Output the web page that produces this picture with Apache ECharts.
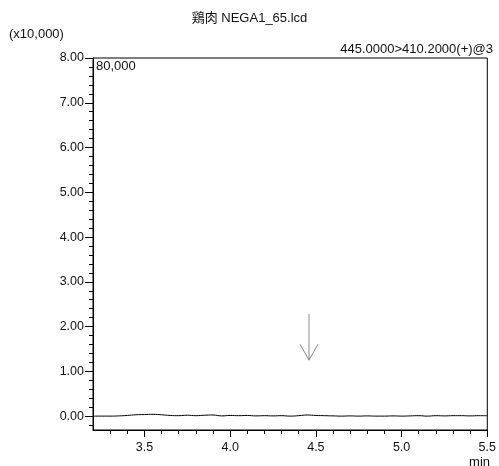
<!DOCTYPE html>
<html><head><meta charset="utf-8">
<script src="https://cdn.jsdelivr.net/npm/echarts@6/dist/echarts.min.js"></script>
<style>html,body{margin:0;padding:0;background:#fff}#c{width:499px;height:466px}</style>
</head><body><div id="c"></div>
<script>
var FONT = '"Liberation Sans","Noto Sans CJK JP",sans-serif';
var times = [3.20,3.25,3.30,3.35,3.40,3.45,3.50,3.55,3.60,3.65,3.70,3.75,3.80,3.85,3.90,3.95,4.00,4.05,4.10,4.15,4.20,4.25,4.30,4.35,4.40,4.45,4.50,4.55,4.60,4.65,4.70,4.75,4.80,4.85,4.90,4.95,5.00,5.05,5.10,5.15,5.20,5.25,5.30,5.35,5.40,5.45,5.50];
var intensity = [0,0,0,0.005,0.015,0.03,0.035,0.04,0.03,0.015,0.01,0.02,0.01,0.02,0.025,0.005,0.015,0.01,0.015,0.005,0.01,0.005,0.01,0,0.01,0.025,0.015,0.01,0.005,0,0.005,0,0.005,0,0,0.005,0,0.005,0.01,0,0.01,0.005,0.01,0.01,0.005,0.01,0.01];
var yMajorTicks = [0,1,2,3,4,5,6,7,8];
var yMinorTicks = [-0.2,0.2,0.4,0.6,0.8,1.2,1.4,1.6,1.8,2.2,2.4,2.6,2.8,3.2,3.4,3.6,3.8,4.2,4.4,4.6,4.8,5.2,5.4,5.6,5.8,6.2,6.4,6.6,6.8,7.2,7.4,7.6,7.8];
var xMajorTicks = [3.5,4.0,4.5,5.0,5.5];
var xMinorTicks = [3.3,3.4,3.6,3.7,3.8,3.9,4.1,4.2,4.3,4.4,4.6,4.7,4.8,4.9,5.1,5.2,5.3,5.4];
var arrowX = 4.46, arrowTop = 2.28, arrowTip = 1.25;
var titleText = '鶏肉 NEGA1_65.lcd';
var scaleText = '(x10,000)';
var mrmText = '445.0000>410.2000(+)@3';
var maxText = '80,000';
var xUnit = 'min';

var chart = echarts.init(document.getElementById('c'), null, {renderer:'canvas'});
var X0 = 3.2, X1 = 5.5, Y0 = -0.31, Y1 = 8;
chart.setOption({
  animation:false,
  grid:{left:93, top:58, right:7, bottom:36, show:true, borderColor:'#000', borderWidth:1, backgroundColor:'transparent'},
  xAxis:[
    {type:'value', min:X0, max:X1, position:'bottom',
     axisLine:{show:true, onZero:false, lineStyle:{color:'#000', width:1}},
     axisTick:{show:true, length:7, customValues:xMajorTicks, lineStyle:{color:'#000'}},
     axisLabel:{show:true, customValues:xMajorTicks, margin:11, fontFamily:FONT, fontSize:12.5, color:'#111',
       formatter:function(v){return v.toFixed(1);}},
     splitLine:{show:false}},
    {type:'value', min:X0, max:X1, position:'bottom',
     axisLine:{show:false, onZero:false}, axisLabel:{show:false}, splitLine:{show:false},
     axisTick:{show:true, length:4, customValues:xMinorTicks, lineStyle:{color:'#000'}}}
  ],
  yAxis:[
    {type:'value', min:Y0, max:Y1, position:'left',
     axisLine:{show:true, onZero:false, lineStyle:{color:'#000', width:1}},
     axisTick:{show:true, length:8, customValues:yMajorTicks, lineStyle:{color:'#000'}},
     axisLabel:{show:true, customValues:yMajorTicks, margin:9, fontFamily:FONT, fontSize:12.5, color:'#111',
       formatter:function(v){return v.toFixed(2);}},
     splitLine:{show:false}},
    {type:'value', min:Y0, max:Y1, position:'left',
     axisLine:{show:false, onZero:false}, axisLabel:{show:false}, splitLine:{show:false},
     axisTick:{show:true, length:4, customValues:yMinorTicks, lineStyle:{color:'#000'}}}
  ],
  series:[{
    type:'line', xAxisIndex:0, yAxisIndex:0, showSymbol:false, smooth:true,
    lineStyle:{color:'#000', width:1},
    data: times.map(function(t,i){return [t, intensity[i]];})
  }]
});

var arrowStart = chart.convertToPixel({xAxisIndex:0, yAxisIndex:0}, [arrowX, arrowTop]);
var arrowEnd = chart.convertToPixel({xAxisIndex:0, yAxisIndex:0}, [arrowX, arrowTip]);
var gray = {stroke:'#888', lineWidth:1};
var f13 = '13px ' + FONT;
chart.setOption({
  graphic:[
    {type:'text', left:'center', top:12, style:{text:titleText, fill:'#111', font:f13}},
    {type:'text', left:9, top:28, style:{text:scaleText, fill:'#111', font:f13}},
    {type:'text', right:6, top:43, style:{text:mrmText, fill:'#111', font:f13}},
    {type:'text', left:96, top:60, style:{text:maxText, fill:'#111', font:f13}},
    {type:'text', right:9, top:456, style:{text:xUnit, fill:'#111', font:f13}},
    {type:'line', shape:{x1:arrowStart[0], y1:arrowStart[1], x2:arrowEnd[0], y2:arrowEnd[1]}, style:gray},
    {type:'line', shape:{x1:arrowEnd[0]-9, y1:arrowEnd[1]-16, x2:arrowEnd[0], y2:arrowEnd[1]}, style:gray},
    {type:'line', shape:{x1:arrowEnd[0]+9, y1:arrowEnd[1]-16, x2:arrowEnd[0], y2:arrowEnd[1]}, style:gray}
  ]
});
</script></body></html>
